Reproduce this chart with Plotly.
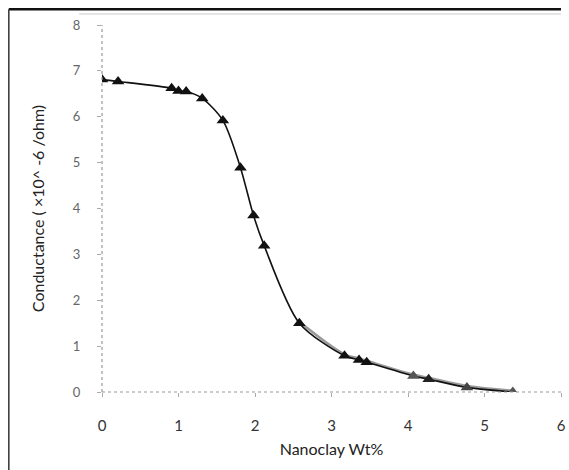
import plotly.graph_objects as go

# Nanoclay content (wt%) and measured conductance (x10^-6 /ohm)
nanoclay_wt = [0.0, 0.21, 0.91, 1.0, 1.1, 1.31, 1.58, 1.81, 1.98, 2.12,
               2.58, 3.17, 3.36, 3.46, 4.07, 4.27, 4.77, 5.37]
conductance = [6.81, 6.77, 6.62, 6.56, 6.55, 6.40, 5.92, 4.89, 3.85, 3.19,
               1.50, 0.79, 0.70, 0.65, 0.35, 0.28, 0.10, 0.0]

x_ticks = [0, 1, 2, 3, 4, 5, 6]
y_ticks = [0, 1, 2, 3, 4, 5, 6, 7, 8]

marker_colors = ["#111111"] * 14 + ["#555555", "#222222", "#444444", "#555555"]

fig = go.Figure()

# light companion trace in the tail region
fig.add_trace(go.Scatter(
    x=nanoclay_wt[10:], y=[v + 0.03 for v in conductance[10:]],
    mode="lines", line=dict(color="#9a9a9a", width=2.5, shape="spline"),
    hoverinfo="skip", showlegend=False,
))

fig.add_trace(go.Scatter(
    x=nanoclay_wt, y=conductance,
    mode="lines+markers",
    line=dict(color="#111111", width=1.6, shape="spline", smoothing=0.8),
    marker=dict(symbol="triangle-up", size=11, color=marker_colors),
    showlegend=False,
))

font_family = "Lato, Liberation Sans, sans-serif"
x_tick_font = dict(family=font_family, size=15, color="#333333")
y_tick_font = dict(family=font_family, size=13, color="#666666")
title_font = dict(family=font_family, size=16, color="#222222")

fig.update_xaxes(
    range=[0, 6], tickvals=x_ticks, ticks="outside", ticklen=4,
    tickcolor="#aaaaaa", tickfont=x_tick_font, showgrid=False, zeroline=False,
    showline=False, ticklabelstandoff=16, ticklabeloverflow="allow",
    title=dict(text="Nanoclay Wt%", font=title_font, standoff=10),
)
fig.update_yaxes(
    range=[0, 8], tickvals=y_ticks, ticks="outside", ticklen=4,
    tickcolor="#aaaaaa", tickfont=y_tick_font, showgrid=False, zeroline=False,
    showline=False, ticklabelstandoff=14, ticklabeloverflow="allow",
    title=dict(text="Conductance ( ×10^ -6 /ohm)", font=title_font, standoff=24),
)

shapes = [
    # dotted axis lines
    dict(type="line", xref="paper", yref="paper", x0=0, x1=1, y0=0, y1=0,
         line=dict(color="#999999", width=1.2, dash="dot")),
    dict(type="line", xref="paper", yref="paper", x0=0, x1=0, y0=0, y1=1,
         line=dict(color="#999999", width=1.2, dash="dot")),
    # outer frame
    dict(type="line", xref="paper", yref="paper", x0=-0.203, x1=1.0, y0=1.043, y1=1.043,
         line=dict(color="#111111", width=2.5)),
    dict(type="line", xref="paper", yref="paper", x0=-0.203, x1=-0.203, y0=1.043, y1=-0.22,
         line=dict(color="#333333", width=1.5)),
    dict(type="line", xref="paper", yref="paper", x0=-0.05, x1=1.0, y0=1.03, y1=1.03,
         line=dict(color="#dddddd", width=1.5)),
]

fig.update_layout(
    width=569, height=470,
    margin=dict(l=102, r=3, t=25, b=78),
    paper_bgcolor="white", plot_bgcolor="white",
    shapes=shapes,
)

fig.write_html("out.html")
